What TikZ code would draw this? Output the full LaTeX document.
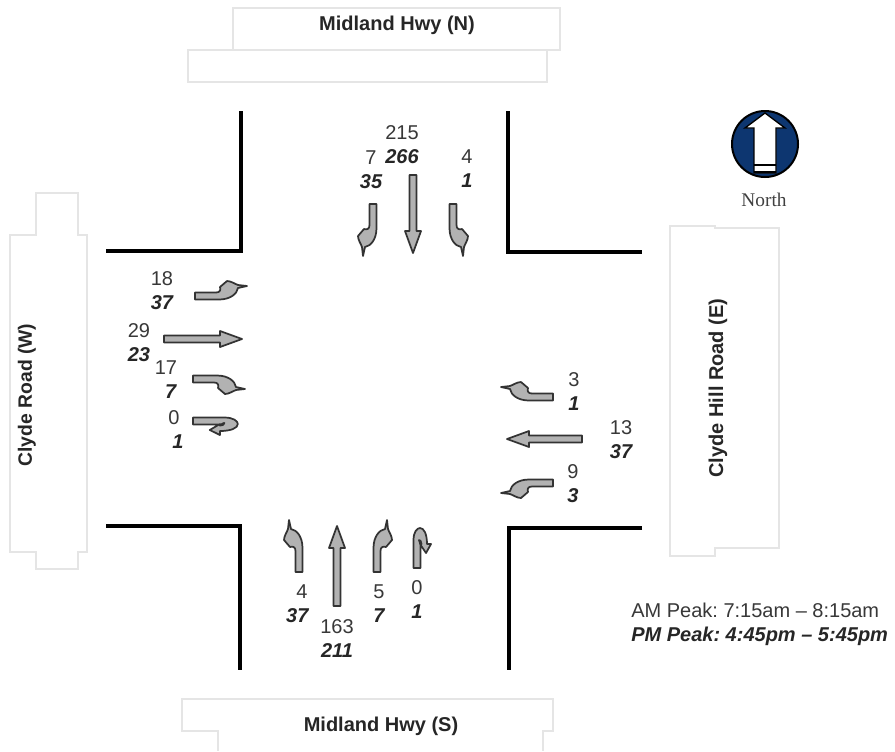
\documentclass[tikz,border=0pt]{standalone}
\usepackage{fontspec}
\setmainfont{Liberation Sans}
\newfontfamily\signfont{Liberation Serif}
\usetikzlibrary{positioning}
\definecolor{roadgrey}{rgb}{0.90,0.90,0.90}
\definecolor{arrowgrey}{rgb}{0.70,0.70,0.70}
\definecolor{arrowedge}{rgb}{0.20,0.20,0.20}
\definecolor{countgrey}{rgb}{0.22,0.22,0.22}
\definecolor{signblue}{rgb}{0.05,0.21,0.44}
\tikzset{
  road/.style={
    draw=roadgrey,
    line width=1pt,
    fill=white
  },
  kerb/.style={
    draw=black,
    line width=2.4pt,
    line join=miter
  },
  move/.style={
    draw=arrowedge,
    fill=arrowgrey,
    line width=1.3pt,
    line join=round
  },
  roadname/.style={
    font=\fontsize{15}{17}\selectfont\bfseries,
    text=black!85,
    inner sep=0pt
  },
  amcount/.style={
    font=\fontsize{15}{17}\selectfont,
    text=countgrey,
    inner sep=0pt
  },
  pmcount/.style={
    font=\fontsize{15}{17}\selectfont\bfseries\itshape,
    text=black!85,
    inner sep=0pt
  },
  pics/thruarrow/.style={
    code={
      \draw[move] (-3.5,0) -- (-3.5,22-#1) -- (-8,22-#1) -- (0,-#1)
        -- (8,22-#1) -- (3.5,22-#1) -- (3.5,0) -- cycle;
    }
  },
  pics/turnarrow/.style={
    code={
      \draw[move] (-3.5,0) -- (-3.5,-21)
        .. controls (-3.5,-25) and (-6,-26) .. (-9,-25) -- (-15,-32)
        .. controls (-15,-36) and (-12,-40) .. (-11,-43) -- (-10,-52) -- (-8,-43)
        .. controls (-2,-42) and (3.5,-35) .. (3.5,-24) -- (3.5,0) -- cycle;
    }
  },
  pics/uturnarrow/.style={
    code={
      \draw[move] (-3.5,0) -- (-3.5,-28)
        .. controls (-3.5,-36) and (0,-40) .. (3,-40)
        .. controls (7,-40) and (10,-34) .. (10,-24)
        -- (14,-24) -- (9,-15) -- (3,-24) -- (4.5,-24)
        .. controls (4.5,-27) and (3,-28) .. (2,-28)
        .. controls (0.5,-28) and (3.5,-27) .. (3.5,-24) -- (3.5,0) -- cycle;
    }
  }
}
\frenchspacing
\begin{document}
\begin{tikzpicture}[x=0.75pt,y=-0.75pt,on grid,node distance=18pt]
\useasboundingbox[fill=white] (0,0) rectangle (895,751);
% roads
\draw[road] (233,8) rectangle (560,50);
\draw[road] (188,50) rectangle (547,82);
\draw[road] (218,751) -- (218,731) -- (182,731) -- (182,699) -- (553,699) -- (553,731)
  -- (543,731) -- (543,751);
\draw[road] (36,193) -- (78,193) -- (78,235) -- (87,235) -- (87,552) -- (78,552)
  -- (78,569) -- (36,569) -- (36,552) -- (10,552) -- (10,235) -- (36,235) -- cycle;
\draw[road] (670,226) -- (715,226) -- (715,228) -- (779,228) -- (779,548) -- (715,548)
  -- (715,556) -- (670,556) -- cycle;
\node[roadname] (midlandn) at (397,25) {Midland Hwy (N)};
\node[roadname] (midlands) at (381,726) {Midland Hwy (S)};
\node[roadname,rotate=90,font=\fontsize{14.5}{17}\selectfont\bfseries] (clydew) at (27,395) {Clyde Road (W)};
\node[roadname,rotate=90] (clydee) at (718,388) {Clyde Hill Road (E)};
% kerbs
\draw[kerb] (241,111) -- (241,251) -- (106,251);
\draw[kerb] (508,111) -- (508,252) -- (642,252);
\draw[kerb] (106,526) -- (240,526) -- (240,670);
\draw[kerb] (642,528) -- (509,528) -- (509,670);
% north
\pic[rotate=180,xscale=-1] (nright) at (373,204) {turnarrow};
\pic[rotate=180] (nthru) at (413,175) {thruarrow=78};
\pic[rotate=180] (nleft) at (453,204) {turnarrow};
\node[amcount] (n215) at (402,133) {215};
\node[pmcount,below=of n215] (n266) {266};
\node[amcount] (n7) at (371,158) {7};
\node[pmcount,below=of n7] (n35) {35};
\node[amcount] (n4) at (467,157) {4};
\node[pmcount,below=of n4] (n1) {1};
% west
\pic[rotate=-90] (wleft) at (195,296) {turnarrow};
\pic[rotate=-90] (wthru) at (164,339) {thruarrow=78};
\pic[rotate=-90,xscale=-1] (wright) at (193,379) {turnarrow};
\pic[rotate=-90,yscale=1.12] (wuturn) at (193,421) {uturnarrow};
\node[amcount] (w18) at (162,279) {18};
\node[pmcount,below=of w18] (w37) {37};
\node[amcount] (w29) at (139,331) {29};
\node[pmcount,below=of w29] (w23) {23};
\node[amcount] (w17) at (166,368) {17};
\node[pmcount,below=of w17,xshift=3.5pt] (w7) {7};
\node[amcount] (w0) at (174,418) {0};
\node[pmcount,below=of w0,xshift=3pt] (w1) {1};
% south
\pic (sleft) at (299,572) {turnarrow};
\pic (sthru) at (337,606) {thruarrow=80};
\pic[xscale=-1] (sright) at (377,572) {turnarrow};
\pic (suturn) at (417,568) {uturnarrow};
\node[amcount] (s4) at (302,592) {4};
\node[pmcount,below=of s4,xshift=-3.5pt] (s37) {37};
\node[amcount] (s163) at (337,627) {163};
\node[pmcount,below=of s163] (s211) {211};
\node[amcount] (s5) at (379,592) {5};
\node[pmcount,below=of s5] (s7) {7};
\node[amcount] (s0) at (417,588) {0};
\node[pmcount,below=of s0] (s1) {1};
% east
\pic[rotate=90,xscale=-1] (eright) at (553,397) {turnarrow};
\pic[rotate=90] (ethru) at (582,439) {thruarrow=75};
\pic[rotate=90] (eleft) at (553,483) {turnarrow};
\node[amcount] (e3) at (574,380) {3};
\node[pmcount,below=of e3] (e1) {1};
\node[amcount] (e13) at (621,428) {13};
\node[pmcount,below=of e13] (e37) {37};
\node[amcount] (e9) at (573,472) {9};
\node[pmcount,below=of e9] (e3b) {3};
% peak times
\node[amcount,anchor=west] (ampeak) at (631,610) {AM Peak: 7:15am -- 8:15am};
\node[pmcount,anchor=west] (pmpeak) at (631,636) {PM Peak: 4:45pm -- 5:45pm};
% compass
\draw[fill=signblue,draw=black,line width=1.5pt] (765,144) circle (33);
\draw[fill=white,draw=black,line width=1pt] (765,113) -- (785,128) -- (776,128) -- (776,173)
  -- (754,173) -- (754,128) -- (745,128) -- cycle;
\draw[black,line width=1.5pt] (754,165) -- (776,165);
\draw[black,line width=1.5pt] (754,172) -- (776,172);
\node[inner sep=0pt,font=\fontsize{14.5}{16}\signfont,text=black!75] (north) at (764,200) {North};
\end{tikzpicture}
\end{document}
